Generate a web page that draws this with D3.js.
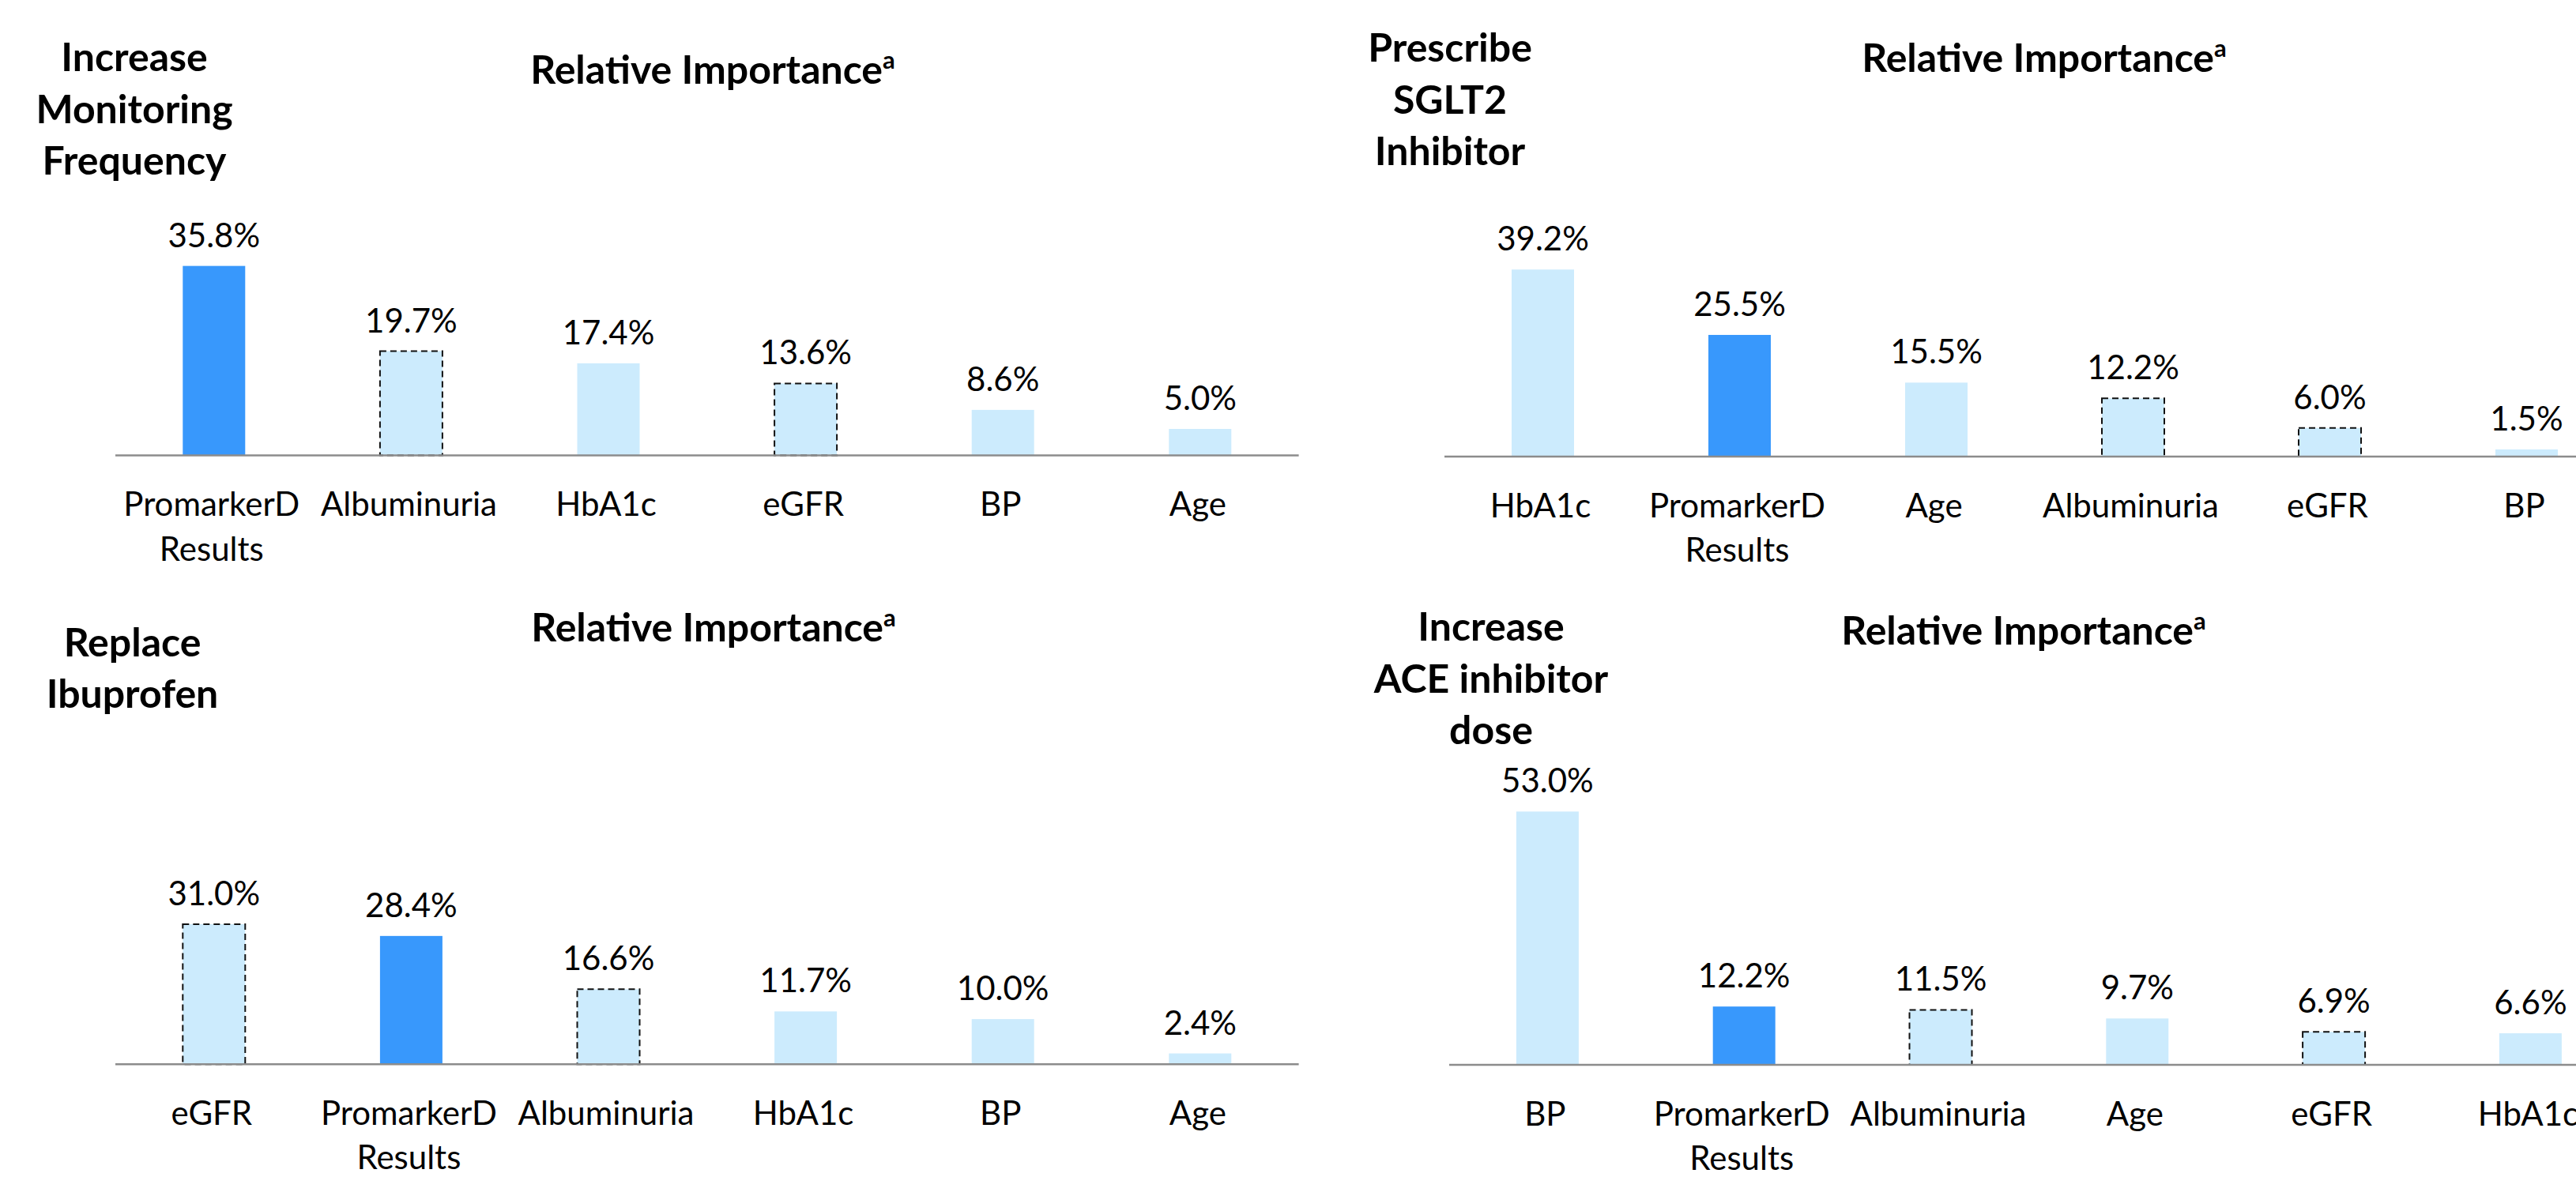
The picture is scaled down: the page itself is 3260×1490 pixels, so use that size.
<!DOCTYPE html>
<html>
<head>
<meta charset="utf-8">
<script src="https://cdn.jsdelivr.net/npm/d3@7/dist/d3.min.js"></script>
<style>
  html, body { margin: 0; padding: 0; background: #ffffff; }
  svg { display: block; }
</style>
</head>
<body>
<svg id="chart" width="3260" height="1490"></svg>
<script>
// ---------- Data ----------
const titleMain = "Relative Importance";
const titleSup = "a";

const monitoringTitle = ["Increase", "Monitoring", "Frequency"];
const monitoringCategories = ["PromarkerD Results", "Albuminuria", "HbA1c", "eGFR", "BP", "Age"];
const monitoringValues = [35.8, 19.7, 17.4, 13.6, 8.6, 5.0];

const sglt2Title = ["Prescribe", "SGLT2", "Inhibitor"];
const sglt2Categories = ["HbA1c", "PromarkerD Results", "Age", "Albuminuria", "eGFR", "BP"];
const sglt2Values = [39.2, 25.5, 15.5, 12.2, 6.0, 1.5];

const ibuprofenTitle = ["Replace", "Ibuprofen"];
const ibuprofenCategories = ["eGFR", "PromarkerD Results", "Albuminuria", "HbA1c", "BP", "Age"];
const ibuprofenValues = [31.0, 28.4, 16.6, 11.7, 10.0, 2.4];

const aceTitle = ["Increase", "ACE inhibitor", "dose"];
const aceCategories = ["BP", "PromarkerD Results", "Albuminuria", "Age", "eGFR", "HbA1c"];
const aceValues = [53.0, 12.2, 11.5, 9.7, 6.9, 6.6];

// Category styling groups
const highlightCategories = ["PromarkerD Results"];
const dashedCategories = ["Albuminuria", "eGFR"];

// ---------- Layout ----------
const panels = [
  { title: monitoringTitle, cats: monitoringCategories, vals: monitoringValues,
    x0: 146, step: 249.6, axisY: 576.5, pxPerUnit: 6.70,
    leftX: 170, leftY: 90, mainX: 902, mainY: 106 },
  { title: sglt2Title, cats: sglt2Categories, vals: sglt2Values,
    x0: 1828, step: 249.0, axisY: 578, pxPerUnit: 6.04,
    leftX: 1835, leftY: 78, mainX: 2587, mainY: 91 },
  { title: ibuprofenTitle, cats: ibuprofenCategories, vals: ibuprofenValues,
    x0: 146, step: 249.6, axisY: 1347.3, pxPerUnit: 5.72,
    leftX: 167.5, leftY: 830.6, mainX: 903, mainY: 812 },
  { title: aceTitle, cats: aceCategories, vals: aceValues,
    x0: 1834, step: 248.8, axisY: 1348, pxPerUnit: 6.05,
    leftX: 1887, leftY: 811, mainX: 2561, mainY: 816 }
];

const FONT = "Lato, 'Open Sans', 'Noto Sans', sans-serif";
const DARK = "#3898FC";
const LIGHT = "#CCEBFD";
const AXIS = "#8C8C8C";
const yMax = 60;

const svg = d3.select("#chart");

panels.forEach(p => {
  const n = p.cats.length;
  const pad = 1 - 79 / p.step;
  const x = d3.scaleBand()
    .domain(p.cats)
    .range([p.x0, p.x0 + p.step * n])
    .paddingInner(pad)
    .paddingOuter(pad / 2);
  const y = d3.scaleLinear()
    .domain([0, yMax])
    .range([p.axisY, p.axisY - yMax * p.pxPerUnit]);

  const g = svg.append("g");

  // Left bold title
  const lt = g.append("text")
    .attr("font-family", FONT)
    .attr("font-weight", 700)
    .attr("font-size", 50)
    .attr("text-anchor", "middle")
    .attr("fill", "#000");
  p.title.forEach((line, i) => {
    lt.append("tspan").attr("x", p.leftX).attr("y", p.leftY + i * 65.5).text(line);
  });

  // Main title with superscript
  const mt = g.append("text")
    .attr("x", p.mainX)
    .attr("y", p.mainY)
    .attr("font-family", FONT)
    .attr("font-weight", 700)
    .attr("font-size", 50)
    .attr("text-anchor", "middle")
    .attr("fill", "#000");
  mt.append("tspan").text(titleMain);
  mt.append("tspan").attr("font-size", 31).attr("dy", -19).text(titleSup);

  // Bars
  const data = p.cats.map((c, i) => ({ cat: c, val: p.vals[i] }));
  g.selectAll("rect.bar")
    .data(data)
    .join("rect")
    .attr("class", "bar")
    .attr("x", d => x(d.cat))
    .attr("width", x.bandwidth())
    .attr("y", d => y(d.val))
    .attr("height", d => y(0) - y(d.val))
    .attr("fill", d => highlightCategories.includes(d.cat) ? DARK : LIGHT)
    .attr("stroke", d => dashedCategories.includes(d.cat) ? "#111" : "none")
    .attr("stroke-width", 2)
    .attr("stroke-dasharray", "8,5");

  // Value labels
  g.selectAll("text.val")
    .data(data)
    .join("text")
    .attr("class", "val")
    .attr("x", d => x(d.cat) + x.bandwidth() / 2)
    .attr("y", d => y(d.val) - 24)
    .attr("text-anchor", "middle")
    .attr("font-family", FONT)
    .attr("font-size", 42)
    .attr("fill", "#000")
    .text(d => d.val.toFixed(1) + "%");

  // Category axis
  const axis = d3.axisBottom(x).tickSize(0).tickPadding(0).tickFormat(() => "");
  const ag = g.append("g").attr("transform", `translate(0,${p.axisY})`).call(axis);
  ag.select(".domain").attr("stroke", AXIS).attr("stroke-width", 2.5)
    .attr("d", `M${p.x0},0H${p.x0 + p.step * n}`);
  ag.selectAll(".tick text").remove();
  ag.selectAll(".tick").each(function(d) {
    const t = d3.select(this).append("text")
      .attr("font-family", FONT)
      .attr("font-size", 42)
      .attr("fill", "#000")
      .attr("text-anchor", "middle");
    const words = d === "PromarkerD Results" ? ["PromarkerD", "Results"] : [d];
    words.forEach((w, i) => {
      t.append("tspan").attr("x", -3).attr("y", 76.5 + i * 56.5).text(w);
    });
  });
});
</script>
</body>
</html>
